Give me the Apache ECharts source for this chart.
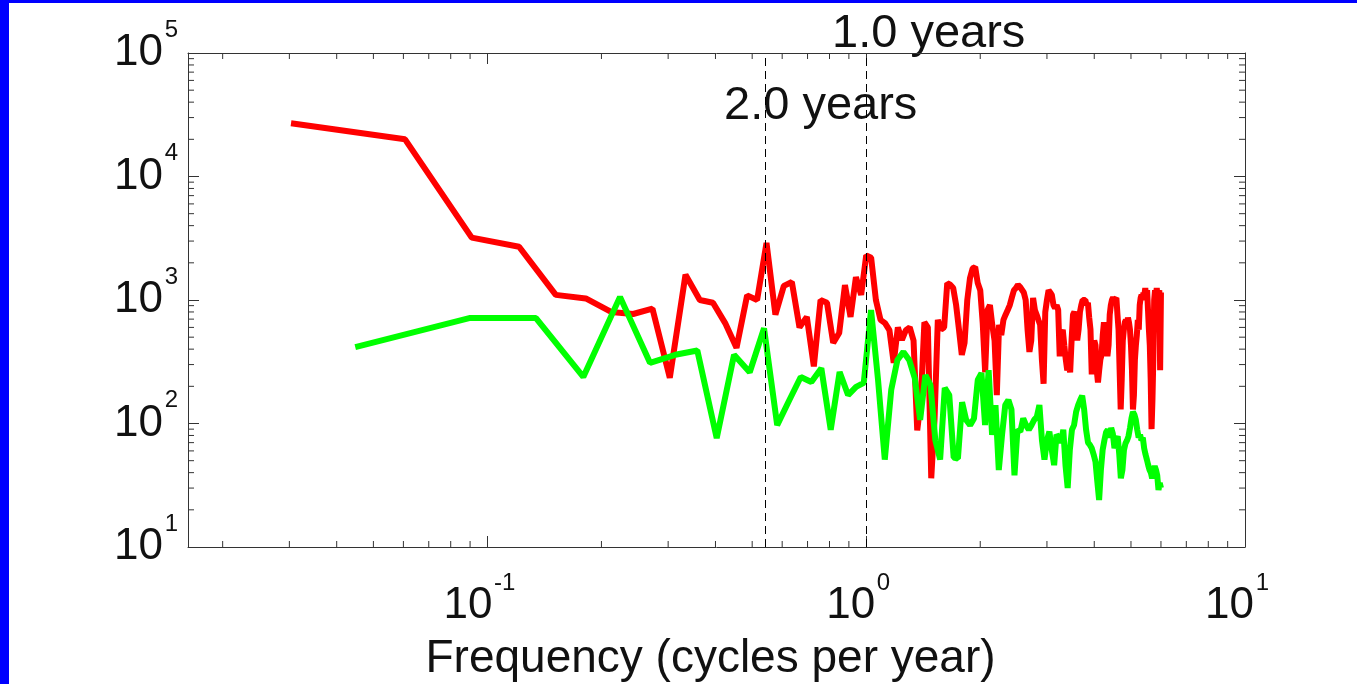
<!DOCTYPE html>
<html>
<head>
<meta charset="utf-8">
<title>Power spectrum</title>
<script src="https://cdn.jsdelivr.net/npm/echarts@6/dist/echarts.min.js"></script>
<style>
  html, body { margin: 0; padding: 0; background: #fff; }
  #chart { position: absolute; left: 0; top: 0; width: 1357px; height: 684px; }
  .edge-left { position: absolute; left: 0; top: 0; width: 9px; height: 684px; background: #0000ff; }
  .edge-top { position: absolute; left: 0; top: 0; width: 1357px; height: 3px; background: #0000ff; }
</style>
</head>
<body>
<div id="chart"></div>
<div class="edge-left"></div>
<div class="edge-top"></div>
<script>
  // frequency spacing of each spectrum (cycles per year)
  const redStep = 1 / 33
  const greenStep = 1 / 22.333

  // red spectrum, one value per harmonic k = 1..198
  const redPower = [
    27000, 20000, 3200, 2700, 1100, 1030, 800, 770, 850, 235,
    1600, 1000, 950, 650, 410, 1090, 1000, 2900, 760, 1300,
    1400, 600, 730, 290, 1000, 950, 450, 540, 1320, 730,
    1530, 1100, 2300, 2200, 1000, 690, 650, 570, 310, 600,
    475, 570, 600, 470, 88, 155, 660, 600, 36, 110,
    690, 575, 600, 1370, 1330, 1250, 910, 575, 360, 450,
    1000, 1500, 1800, 1850, 1370, 1200, 650, 260, 830, 910,
    630, 470, 170, 630, 520, 690, 760, 830, 910, 1050,
    1200, 1250, 1330, 1280, 1300, 1150, 1000, 575, 380, 470,
    1040, 830, 760, 690, 630, 330, 210, 800, 1000, 1200,
    1150, 1100, 910, 860, 910, 830, 350, 520, 575, 430,
    330, 270, 300, 260, 470, 760, 800, 720, 470, 575,
    800, 910, 1000, 970, 1000, 910, 950, 720, 575, 250,
    330, 470, 430, 270, 215, 270, 330, 360, 520, 660,
    540, 470, 350, 430, 760, 910, 1000, 1050, 1000, 970,
    1040, 760, 575, 270, 130, 230, 470, 575, 660, 690,
    630, 720, 660, 575, 430, 270, 130, 170, 330, 430,
    520, 690, 575, 910, 1040, 1100, 1000, 1150, 1100, 1250,
    1000, 1200, 830, 575, 430, 230, 90, 155, 330, 1000,
    1200, 1100, 1250, 1000, 1150, 1200, 270, 1150
  ]

  // green spectrum, one value per harmonic j = 1..134
  const greenPower = [
    416, 714, 714, 238, 1060, 310, 360, 390, 76, 360,
    260, 590, 97, 155, 238, 217, 280, 89, 261, 170,
    198, 213, 830, 225, 51, 187, 327, 380, 327, 233,
    107, 247, 205, 73, 51, 194, 170, 53, 52, 149,
    107, 97, 110, 225, 256, 97, 270, 81, 141, 42,
    81, 141, 155, 130, 38, 89, 86, 110, 97, 89,
    97, 107, 113, 141, 73, 51, 73, 86, 61, 46,
    81, 77, 70, 89, 46, 30, 61, 89, 97, 124,
    141, 155, 168, 130, 89, 70, 67, 63, 56, 49,
    34, 24, 42, 61, 73, 85, 89, 77, 92, 83,
    63, 73, 79, 56, 36, 42, 61, 69, 73, 79,
    92, 110, 124, 118, 107, 89, 77, 81, 73, 77,
    63, 56, 51, 46, 42, 40, 36, 42, 45, 42,
    38, 29, 33, 30
  ]

  // reference periods marked with dashed lines
  const markFreqs = [0.541, 1.0]
  const markTexts = ['2.0 years', '1.0 years']

  // axis ranges and minor tick positions
  const xRange = [0.0162, 10]
  const yRange = [10, 100000]
  const xMinorTicks = [0.02, 0.03, 0.04, 0.05, 0.06, 0.07, 0.08, 0.09,
    0.2, 0.3, 0.4, 0.5, 0.6, 0.7, 0.8, 0.9, 2, 3, 4, 5, 6, 7, 8, 9]
  const yMinorTicks = [20, 30, 40, 50, 60, 70, 80, 90,
    200, 300, 400, 500, 600, 700, 800, 900,
    2000, 3000, 4000, 5000, 6000, 7000, 8000, 9000,
    20000, 30000, 40000, 50000, 60000, 70000, 80000, 90000]

  const font = "'Liberation Sans', Arial, Helvetica, sans-serif"
  const ink = '#111'
  const axisInk = '#333'

  const redData = redPower.map((v, i) => [(i + 1) * redStep, v])
  const greenData = greenPower.map((v, i) => [(i + 1) * greenStep, v])

  // "10" with the exponent as a raised superscript:
  // the tall "10" token sets a 70px line, the exponent sits at its top
  function powerLabel(value) {
    const e = Math.round(Math.log10(value))
    return '{b|10}{g| }{s|' + e + '}'
  }
  const labelRich = {
    b: { fontSize: 44, lineHeight: 70, fontFamily: font, color: ink },
    g: { fontSize: 6, lineHeight: 70, fontFamily: font },
    s: { fontSize: 24, lineHeight: 20, verticalAlign: 'top', fontFamily: font, color: ink }
  }

  function logAxis(pos, range, split, showLabel) {
    return {
      type: 'log',
      logBase: 10,
      position: pos,
      min: range[0],
      max: range[1],
      splitNumber: split,
      axisLine: { show: true, lineStyle: { color: axisInk, width: 1 } },
      axisTick: { show: true, inside: true, length: 11, lineStyle: { color: axisInk, width: 1 } },
      splitLine: { show: false },
      axisLabel: {
        show: showLabel,
        showMinLabel: false,
        formatter: powerLabel,
        rich: labelRich
      }
    }
  }

  const xBottom = logAxis('bottom', xRange, 3, true)
  xBottom.axisLabel.margin = 24
  xBottom.axisLabel.padding = [0, 16, 0, 0]
  xBottom.name = 'Frequency (cycles per year)'
  xBottom.nameLocation = 'middle'
  xBottom.nameGap = 89
  xBottom.nameTextStyle = { fontSize: 46, fontFamily: font, color: ink, padding: [0, 12, 0, 0] }

  const yLeft = logAxis('left', yRange, 4, true)
  yLeft.axisLabel.showMinLabel = true
  yLeft.axisLabel.margin = 10

  // minor ticks on all four sides, placed through the axis scales
  function minorX(params, api) {
    const p1 = api.coord([api.value(0), yRange[0]])
    const p2 = api.coord([api.value(0), yRange[1]])
    const st = { stroke: axisInk, lineWidth: 1 }
    return {
      type: 'group',
      children: [
        { type: 'line', shape: { x1: p1[0], y1: p1[1], x2: p1[0], y2: p1[1] - 6 }, style: st },
        { type: 'line', shape: { x1: p2[0], y1: p2[1], x2: p2[0], y2: p2[1] + 6 }, style: st }
      ]
    }
  }
  function minorY(params, api) {
    const p1 = api.coord([xRange[0], api.value(1)])
    const p2 = api.coord([xRange[1], api.value(1)])
    const st = { stroke: axisInk, lineWidth: 1 }
    return {
      type: 'group',
      children: [
        { type: 'line', shape: { x1: p1[0], y1: p1[1], x2: p1[0] + 6, y2: p1[1] }, style: st },
        { type: 'line', shape: { x1: p2[0], y1: p2[1], x2: p2[0] - 6, y2: p2[1] }, style: st }
      ]
    }
  }

  const chart = echarts.init(document.getElementById('chart'), null, { renderer: 'canvas' })
  chart.setOption({
    animation: false,
    backgroundColor: '#fff',
    // fixed plot box, labels and the axis name sit outside it
    grid: { left: 188, right: 112, top: 53, bottom: 137, containLabel: false, outerBoundsMode: 'none' },
    xAxis: [xBottom, logAxis('top', xRange, 3, false)],
    yAxis: [yLeft, logAxis('right', yRange, 4, false)],
    graphic: [
      { type: 'text', left: 832, top: 11, style: { text: markTexts[1], fontSize: 47, fontFamily: font, fill: ink } },
      { type: 'text', left: 724, top: 83, style: { text: markTexts[0], fontSize: 47, fontFamily: font, fill: ink } }
    ],
    series: [
      {
        type: 'line',
        data: redData,
        showSymbol: false,
        lineStyle: { color: '#ff0000', width: 6 },
        itemStyle: { color: '#ff0000' },
        z: 3,
        markLine: {
          silent: true,
          symbol: 'none',
          label: { show: false },
          lineStyle: { color: '#000', width: 1, type: [8, 5] },
          data: markFreqs.map(f => ({ xAxis: f }))
        }
      },
      {
        type: 'line',
        data: greenData,
        showSymbol: false,
        lineStyle: { color: '#00ff00', width: 6 },
        itemStyle: { color: '#00ff00' },
        z: 4
      },
      { type: 'custom', data: xMinorTicks.map(v => [v, yRange[0]]), renderItem: minorX, silent: true, z: 5 },
      { type: 'custom', data: yMinorTicks.map(v => [xRange[0], v]), renderItem: minorY, silent: true, z: 5 }
    ]
  })
</script>
</body>
</html>
